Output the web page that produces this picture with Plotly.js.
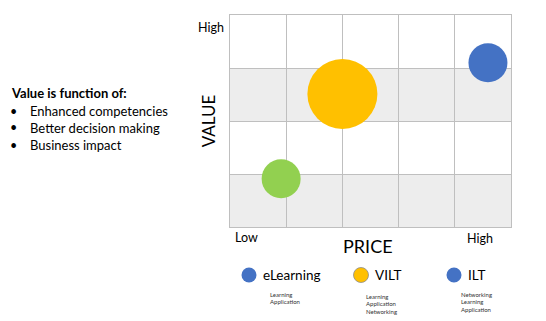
<!DOCTYPE html>
<html><head><meta charset="utf-8">
<script src="https://cdn.plot.ly/plotly-3.0.1.min.js"></script>
<style>html,body{margin:0;padding:0;background:#fff}#c{width:546px;height:321px}</style>
</head><body><div id="c"></div>
<script>
const categories = ['eLearning', 'VILT', 'ILT'];
const price = [0.91, 2.0, 4.59];
const value = [0.91, 2.51, 3.10];
const bubbleSize = [39, 70, 39];
const bubbleColors = ['#92D050', '#FFC000', '#4472C4'];
const legendColors = ['#4472C4', '#FFC000', '#4472C4'];
const legendNotes = [['Learning', 'Application'], ['Learning', 'Application', 'Networking'], ['Networking', 'Learning', 'Application']];
const valueDrivers = ['Enhanced competencies', 'Better decision making', 'Business impact'];
const FONT = 'Lato, "Open Sans", sans-serif';

const trace = {
  type: 'scatter', mode: 'markers', x: price, y: value, text: categories,
  marker: {size: bubbleSize, color: bubbleColors, line: {width: 0}, opacity: 1},
  hoverinfo: 'text', showlegend: false, cliponaxis: false
};

const shapes = [
  {type: 'rect', xref: 'x', yref: 'y', x0: 0, x1: 5, y0: 0, y1: 1, fillcolor: '#EDEDED', line: {width: 0}, layer: 'below'},
  {type: 'rect', xref: 'x', yref: 'y', x0: 0, x1: 5, y0: 2, y1: 3, fillcolor: '#EDEDED', line: {width: 0}, layer: 'below'}
];
const annotations = [
  {xref: 'paper', yref: 'paper', x: -0.015, y: 0.94, xanchor: 'right', yanchor: 'middle', text: 'High', showarrow: false, font: {size: 12.5, color: '#000', family: FONT}},
  {xref: 'x', yref: 'paper', x: 0.3, y: -0.05, xanchor: 'center', yanchor: 'middle', text: 'Low', showarrow: false, font: {size: 12.5, color: '#000', family: FONT}},
  {xref: 'x', yref: 'paper', x: 4.45, y: -0.055, xanchor: 'center', yanchor: 'middle', text: 'High', showarrow: false, font: {size: 12.5, color: '#000', family: FONT}},
  {xref: 'paper', yref: 'paper', x: -0.077, y: 0.5, textangle: -90, xanchor: 'center', yanchor: 'middle', text: 'VALUE', showarrow: false, font: {size: 17, color: '#000', family: FONT}},
  {xref: 'paper', yref: 'paper', x: 0.49, y: -0.09, xanchor: 'center', yanchor: 'middle', text: 'PRICE', showarrow: false, font: {size: 18, color: '#000', family: FONT}}
];

const px = p => (p - 230) / 281;
const py = p => (227 - p) / 212;
annotations.push({xref: 'paper', yref: 'paper', x: px(9), y: py(93), xanchor: 'left', yanchor: 'middle', text: '<b>Value is function of:</b>', showarrow: false, font: {size: 13, color: '#000', family: FONT}});
valueDrivers.forEach((t, i) => {
  annotations.push({xref: 'paper', yref: 'paper', x: px(8), y: py(111 + 17 * i), xanchor: 'left', yanchor: 'middle', text: '•', showarrow: false, font: {size: 12.5, color: '#000', family: FONT}});
  annotations.push({xref: 'paper', yref: 'paper', x: px(28), y: py(111 + 17 * i), xanchor: 'left', yanchor: 'middle', text: t, showarrow: false, font: {size: 13, color: '#000', family: FONT}});
});

const legDotX = [249, 361, 454];
const legTextX = [261, 373, 466];
const legNoteX = [268, 364, 459];
const legNoteY0 = [294, 296, 294];
categories.forEach((c, i) => {
  shapes.push({type: 'circle', xref: 'paper', yref: 'paper', x0: px(legDotX[i] - 7.5), x1: px(legDotX[i] + 7.5), y0: py(275 + 7.5), y1: py(275 - 7.5), fillcolor: legendColors[i], line: {color: i === 1 ? '#8c8c8c' : legendColors[i], width: i === 1 ? 0.8 : 0}});
  annotations.push({xref: 'paper', yref: 'paper', x: px(legTextX[i]), y: py(275), xanchor: 'left', yanchor: 'middle', text: c, showarrow: false, font: {size: 13.5, color: '#000', family: FONT}});
  legendNotes[i].forEach((n, j) => {
    annotations.push({xref: 'paper', yref: 'paper', x: px(legNoteX[i]), y: py(legNoteY0[i] + 7.5 * j), xanchor: 'left', yanchor: 'middle', text: n, showarrow: false, font: {size: 6, color: '#333', family: FONT}});
  });
});

const layout = {
  width: 546, height: 321,
  margin: {l: 230, r: 35, t: 15, b: 94, pad: 0},
  paper_bgcolor: '#fff', plot_bgcolor: 'rgba(0,0,0,0)',
  xaxis: {range: [0, 5], dtick: 1, tick0: 0, showticklabels: false, ticks: '', showgrid: true, gridcolor: '#BFBFBF', gridwidth: 1, zeroline: false, showline: true, linecolor: '#BFBFBF', linewidth: 1.2, mirror: true, fixedrange: true},
  yaxis: {range: [0, 4], dtick: 1, tick0: 0, showticklabels: false, ticks: '', showgrid: true, gridcolor: '#BFBFBF', gridwidth: 1, zeroline: false, showline: true, linecolor: '#BFBFBF', linewidth: 1.2, mirror: true, fixedrange: true},
  shapes: shapes, annotations: annotations, showlegend: false, hovermode: 'closest'
};
Plotly.newPlot('c', [trace], layout, {displayModeBar: false, staticPlot: true});
</script></body></html>
